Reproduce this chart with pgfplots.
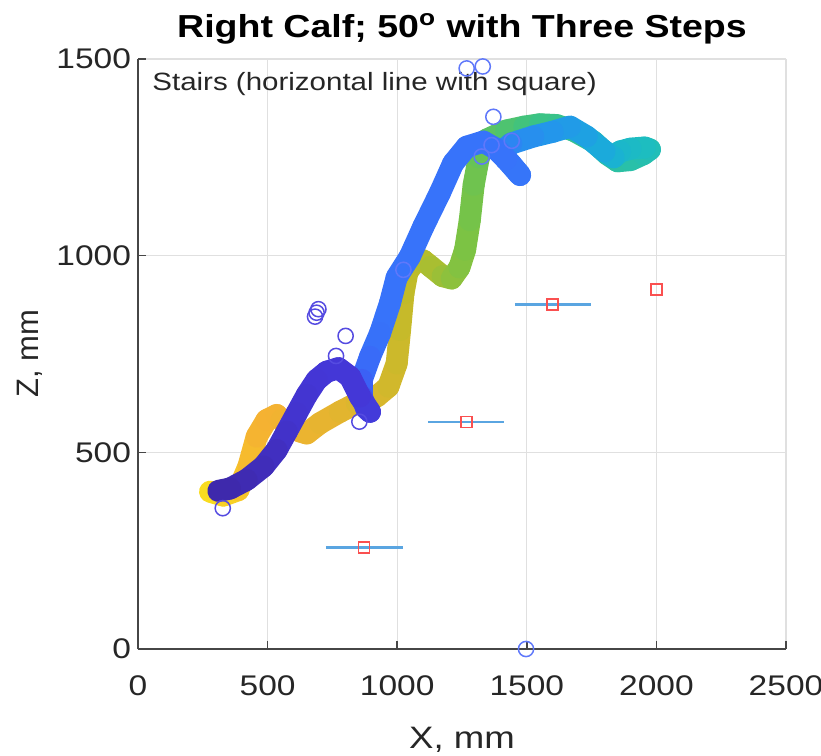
\documentclass[border=0pt]{standalone}
\usepackage{fontspec}
\setmainfont{Liberation Sans}[FakeStretch=1.18]
\newfontfamily\plainsans{Liberation Sans}
\usepackage{pgfplots}
\pgfplotsset{compat=1.18}
\definecolor{stepblue}{RGB}{90,165,225}
\definecolor{sqred}{RGB}{250,80,80}
\definecolor{circblue}{RGB}{95,120,250}
\definecolor{circviolet}{RGB}{85,75,225}
\definecolor{axgray}{RGB}{70,70,70}
\pgfplotsset{colormap={traj}{
 rgb255=(62,40,170) rgb255=(68,55,215) rgb255=(60,95,245) rgb255=(55,115,250)
 rgb255=(35,150,235) rgb255=(25,175,215) rgb255=(30,190,190) rgb255=(60,195,130)
 rgb255=(120,195,70) rgb255=(190,188,40) rgb255=(245,178,50) rgb255=(250,225,30)}}
\begin{document}
\begin{tikzpicture}
\begin{axis}[
 name=ax, scale only axis, width=324pt, height=295pt,
 xmin=0, xmax=2500, ymin=0, ymax=1500,
 xtick={0,500,...,2500}, ytick={0,500,1000,1500},
 axis x line*=bottom, axis y line*=left,
 axis line style={-, axgray, line width=0.8pt},
 tick align=inside, major tick length=4pt, tick style={axgray, line width=0.8pt},
 grid=major, grid style={black!12, line width=0.6pt},
 /pgf/number format/assume math mode=true,
 /pgf/number format/1000 sep={},
 ticklabel style={font=\fontsize{14.2}{16}\selectfont, text=black!85},
 xticklabel style={yshift=-10pt},
 xlabel={X, mm}, ylabel={Z, mm},
 xlabel style={at={(axis description cs:0.5,-0.1678)}, anchor=base, font=\fontsize{15.5}{18}\selectfont, text=black!85},
 ylabel style={at={(axis description cs:-0.1543,0.5)}, anchor=base, font=\plainsans\fontsize{15.5}{18}\selectfont, text=black!85},
 title={Right Calf; 50\textsuperscript{o} with Three Steps},
 title style={at={(axis description cs:0.5,1.0356)}, anchor=base, yshift=-6pt, font=\bfseries\fontsize{15.9}{18}\selectfont},
 clip=false,
]
\addplot[mesh, colormap name=traj, point meta=explicit, point meta min=0, point meta max=11,
  line width=11pt, line cap=round, line join=round] table[meta=c] {
x y c
278 400 11
329 390 10.8
387 404 10.5
426 464 10.3
458 540 10.1
496 582 10
535 595 10
554 582 9.95
586 565 9.9
625 553 9.85
651 548 9.85
702 574 9.8
779 603 9.7
844 625 9.6
921 642 9.5
966 667 9.4
998 726 9.3
1011 811 9.2
1024 904 9.1
1040 960 9.0
1070 985 9.0
1100 988 8.9
1130 972 8.8
1175 948 8.6
1210 942 8.4
1240 970 8.2
1262 1015 8.1
1280 1090 8.0
1295 1180 7.9
1315 1250 7.8
1345 1295 7.6
1420 1318 7.4
1490 1328 7.2
1550 1334 7.0
1615 1332 6.9
1680 1318 6.8
1757 1290 6.7
1810 1258 6.6
1850 1240 6.5
1900 1243 6.4
1950 1258 6.3
1975 1270 6.2
1955 1275 6.0
1900 1272 5.8
1860 1265 5.6
1835 1250 5.4
1800 1265 5.0
1731 1303 4.6
1667 1328 4.3
1600 1315 4.1
1525 1303 3.9
1440 1285 3.7
1400 1262 3.4
1440 1232 3.2
1474 1205 3.1
1420 1245 3.0
1380 1272 3.0
1332 1290 3.0
1268 1277 3.0
1216 1235 3.0
1165 1160 3.0
1101 1074 3.0
1049 998 3.0
998 945 3.0
972 879 3.0
934 803 3.0
895 743 2.8
863 684 2.4
863 642 1.8
880 612 1.4
895 603 1.2
856 642 1.0
818 692 1.0
773 714 1.0
728 705 1.0
689 684 1.0
651 646 0.9
612 599 0.85
574 553 0.8
535 506 0.6
484 464 0.4
419 430 0.25
355 408 0.1
310 402 0
};
\addplot[stepblue, line width=1.3pt] coordinates {(725,258) (1021,258)};
\addplot[stepblue, line width=1.3pt] coordinates {(1118,577) (1413,577)};
\addplot[stepblue, line width=1.3pt] coordinates {(1454,876) (1748,876)};
\addplot[only marks, mark=square, mark size=2.75pt, mark options={draw=sqred, line width=0.9pt}]
 coordinates {(872,258) (1268,577) (1598,876) (2001,914)};
\addplot[only marks, mark=o, mark size=3.8pt, mark options={draw=circviolet, line width=0.75pt}]
 coordinates {(327,358) (683,845) (696,864) (689,855) (801,796) (764,745) (854,578)};
\addplot[only marks, mark=o, mark size=3.8pt, mark options={draw=circblue, line width=0.75pt}]
 coordinates {(1268,1476) (1330,1481) (1371,1353) (1442,1292) (1326,1252) (1364,1281) (1497,0) (1024,964)};
\node[anchor=base west, inner sep=0, font=\fontsize{12.5}{15}\selectfont, text=black!85]
 at (axis description cs:0.0216,0.9458) {Stairs (horizontal line with square)};
\end{axis}
\pgfresetboundingbox
\path[use as bounding box] ([xshift=-69pt,yshift=-53pt]ax.south west) rectangle ([xshift=17.5pt,yshift=29.5pt]ax.north east);
\end{tikzpicture}
\end{document}
